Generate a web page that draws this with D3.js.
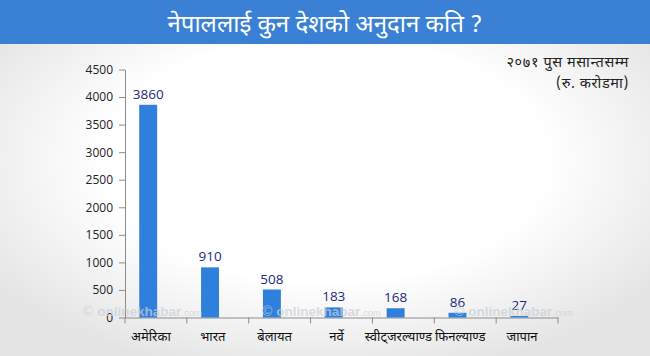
<!DOCTYPE html>
<html><head><meta charset="utf-8">
<script src="https://cdn.jsdelivr.net/npm/d3@7"></script>
<style>
html,body{margin:0;padding:0;background:#fff;}
svg{display:block;}
</style></head>
<body>
<script>
const categories = ["अमेरिका","भारत","बेलायत","नर्वे","स्वीट्जरल्याण्ड","फिनल्याण्ड","जापान"];
const values = [3860, 910, 508, 183, 168, 86, 27];
const yTicks = [0,500,1000,1500,2000,2500,3000,3500,4000,4500];
const titleText = "नेपाललाई कुन देशको अनुदान कति ?";
const noteLines = ["२०७१ पुस मसान्तसम्म", "(रु. करोडमा)"];
const watermark = "onlinekhabar";

const W = 650, H = 356;
const devFont = "'Noto Sans Devanagari','Noto Sans',sans-serif";
const numFont = "'Open Sans','Noto Sans',sans-serif";

const svg = d3.select("body").append("svg").attr("width", W).attr("height", H);
const defs = svg.append("defs");
const rg = defs.append("radialGradient").attr("id","bg").attr("cx","50%").attr("cy","45%").attr("r","62%");
rg.append("stop").attr("offset","0%").attr("stop-color","#ffffff");
rg.append("stop").attr("offset","55%").attr("stop-color","#ffffff");
rg.append("stop").attr("offset","100%").attr("stop-color","#e4e4e4");
svg.append("rect").attr("width",W).attr("height",H).attr("fill","url(#bg)");

// title bar
svg.append("rect").attr("x",0).attr("y",0).attr("width",W).attr("height",44).attr("fill","#3a81d5");
svg.append("text").attr("x",W/2).attr("y",32).attr("text-anchor","middle")
  .attr("font-family",devFont).attr("font-size",24).attr("fill","#fff").text(titleText);

const x = d3.scaleBand().domain(categories).range([125,558]).padding(0);
const y = d3.scaleLinear().domain([0,4500]).range([317.5,69.5]);
const bw = x.bandwidth();

function drawWatermarks(g){
  const wmX = [83, 262, 454];
  wmX.forEach(wx => {
    const t = g.append("text").attr("x",wx).attr("y",316)
      .attr("font-family","'Liberation Sans',sans-serif").attr("fill","#c9d0d8");
    t.append("tspan").attr("font-size",14).text("© ");
    t.append("tspan").attr("font-size",13.5).attr("font-weight","bold").text(watermark);
    t.append("tspan").attr("font-size",9.5).text(".com");
  });
}

// axes
const yAxis = svg.append("g").attr("transform","translate(125,0)")
  .call(d3.axisLeft(y).tickValues(yTicks).tickFormat(d3.format("d")).tickSize(6).tickPadding(6).tickSizeOuter(0));
yAxis.select(".domain").attr("stroke","#8c8c8c");
yAxis.selectAll(".tick line").attr("stroke","#8c8c8c");
yAxis.selectAll(".tick text").attr("font-family",numFont).attr("font-size",12).attr("fill","#222");

const xAxis = svg.append("g").attr("transform","translate(0,317.5)")
  .call(d3.axisBottom(x).tickValues([]).tickSizeOuter(0));
xAxis.select(".domain").attr("stroke","#8c8c8c");
const tickPos = categories.map(c => x(c)).concat([x(categories[categories.length-1]) + bw]);
xAxis.selectAll("line.tk").data(tickPos).enter().append("line")
  .attr("x1", d=>d).attr("x2", d=>d).attr("y1",0).attr("y2",6).attr("stroke","#8c8c8c");

// bars
svg.append("g").selectAll("rect").data(values).enter().append("rect")
  .attr("x",(d,i)=> x(categories[i]) + bw*0.23)
  .attr("width", bw*0.29)
  .attr("y", d=> y(d))
  .attr("height", d=> y(0)-y(d))
  .attr("fill","#2f80dc");

// value labels
svg.append("g").selectAll("text").data(values).enter().append("text")
  .attr("x",(d,i)=> x(categories[i]) + bw*0.23 + bw*0.145)
  .attr("y", d=> y(d) - 6)
  .attr("text-anchor","middle")
  .attr("font-family",numFont).attr("font-size",13.5).attr("fill","#1c2a7c")
  .text(d=>d);

// category labels
svg.append("g").selectAll("text").data(categories).enter().append("text")
  .attr("x", d=> x(d) + bw/2 - 5)
  .attr("y", 341)
  .attr("text-anchor","middle")
  .attr("font-family",devFont).attr("font-size",13).attr("fill","#111")
  .text(d=>d);

// note
svg.append("g").selectAll("text").data(noteLines).enter().append("text")
  .attr("x",629).attr("y",(d,i)=> 67 + i*21)
  .attr("text-anchor","end")
  .attr("font-family",devFont).attr("font-size",14.5).attr("letter-spacing",0.6).attr("fill","#222")
  .text(d=>d);

const wm = svg.append("g").attr("opacity",0.7);
drawWatermarks(wm);
</script>
</body></html>
